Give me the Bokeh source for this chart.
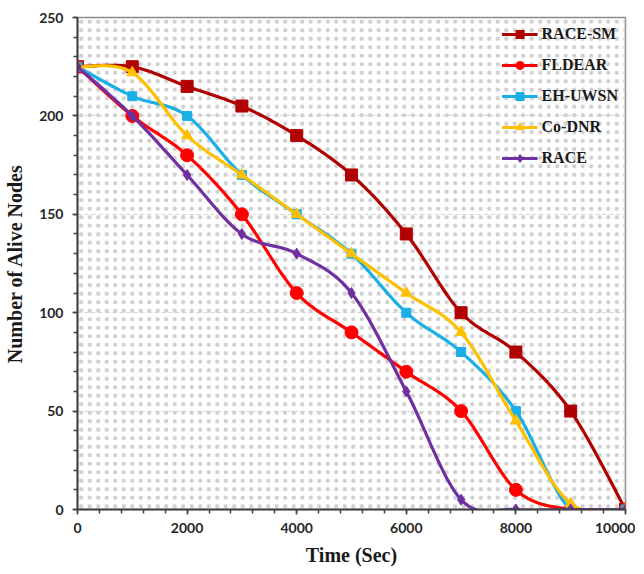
import numpy as np
from bokeh.plotting import figure
from bokeh.models import SingleIntervalTicker, BoxAnnotation, Legend, LegendItem, Range1d
from bokeh.embed import file_html
from bokeh.resources import INLINE

time_sec = [0, 1000, 2000, 3000, 4000, 5000, 6000, 7000, 8000, 9000, 10000]
race_sm = [225, 225, 215, 205, 190, 170, 140, 100, 80, 50, 0]
fldear = [225, 200, 180, 150, 110, 90, 70, 50, 10, 0, 0]
eh_uwsn = [225, 210, 200, 170, 150, 130, 100, 80, 50, 0, 0]
co_dnr = [225, 222, 190, 170, 150, 130, 110, 90, 45, 3, 0]
race = [225, 200, 170, 140, 130, 110, 60, 5, 0, 0, 0]

series_names = ["RACE-SM", "FLDEAR", "EH-UWSN", "Co-DNR", "RACE"]
series_values = [race_sm, fldear, eh_uwsn, co_dnr, race]
colors = ["#B00000", "#FF0000", "#1AAFE6", "#FFC000", "#7030A0"]
markers = ["square", "circle", "square", "triangle", "diamond"]
msizes = [12, 13, 9, 11, 11]


def smooth(xs, ys, n=24):
    """Excel-like smoothed line (Catmull-Rom as cubic Bezier)."""
    P = np.column_stack([np.asarray(xs, float), np.asarray(ys, float)])
    out = [P[0]]
    m = len(P)
    for i in range(m - 1):
        p0 = P[i - 1] if i > 0 else P[i]
        p1 = P[i]
        p2 = P[i + 1]
        p3 = P[i + 2] if i + 2 < m else P[i + 1]
        b1 = p1 + (p2 - p0) / 6.0
        b2 = p2 - (p3 - p1) / 6.0
        t = np.linspace(0, 1, n)[1:, None]
        pts = ((1 - t) ** 3) * p1 + 3 * ((1 - t) ** 2) * t * b1 + 3 * (1 - t) * t ** 2 * b2 + t ** 3 * p2
        out.extend(pts)
    out = np.array(out)
    return out[:, 0], out[:, 1]


p = figure(width=635, height=568, output_backend="svg", toolbar_location=None,
           x_range=Range1d(0, 10000), y_range=Range1d(0, 250),
           min_border_left=77, min_border_top=17, min_border_bottom=56, min_border_right=10)

p.background_fill_color = "white"
p.border_fill_color = "white"
p.outline_line_color = "#8c8c8c"
p.outline_line_width = 1.5

# dotted pattern background of the plot area
p.add_layout(BoxAnnotation(fill_alpha=0, line_alpha=0, hatch_pattern="dot",
                           hatch_color="#cfcfcf", hatch_scale=8.5, hatch_weight=0.6,
                           level="underlay"))

p.xgrid.grid_line_color = None
p.ygrid.grid_line_color = "#d4d4d4"
p.ygrid.grid_line_dash = "4 3"
p.ygrid.grid_line_width = 1

p.xaxis.ticker = SingleIntervalTicker(interval=2000, num_minor_ticks=5)
p.yaxis.ticker = SingleIntervalTicker(interval=50, num_minor_ticks=5)

for ax in (p.xaxis[0], p.yaxis[0]):
    ax.axis_line_color = "#404040"
    ax.axis_line_width = 2
    ax.major_tick_line_color = "#404040"
    ax.minor_tick_line_color = "#404040"
    ax.major_tick_line_width = 1.5
    ax.minor_tick_line_width = 1.5
    ax.major_tick_out = 5
    ax.major_tick_in = 0
    ax.minor_tick_out = 4
    ax.minor_tick_in = 0
    ax.major_label_text_font = "Lato"
    ax.major_label_text_font_size = "14px"
    ax.major_label_text_font_style = "bold"
    ax.major_label_text_color = "#262626"
    ax.axis_label_text_font = "Liberation Serif"
    ax.axis_label_text_font_style = "bold"
    ax.axis_label_text_color = "#1a1a1a"
    ax.axis_label_text_font_size = "20px"

p.xaxis.axis_label = "Time (Sec)"
p.yaxis.axis_label = "Number of Alive Nodes"
p.xaxis.axis_label_standoff = 8
p.yaxis.axis_label_standoff = 10
p.xaxis.major_label_standoff = 8
p.yaxis.major_label_standoff = 9

items = []
for name, vals, col, mk, ms in zip(series_names, series_values, colors, markers, msizes):
    sx, sy = smooth(time_sec, vals)
    r1 = p.line(sx, sy, line_color=col, line_width=3.2)
    r2 = p.scatter(time_sec, vals, marker=mk, size=ms, fill_color=col, line_color=col)
    items.append(LegendItem(label=name, renderers=[r1, r2]))

legend = Legend(items=items, location="top_right")
legend.background_fill_alpha = 0
legend.border_line_color = None
legend.label_text_font = "Liberation Serif"
legend.label_text_font_style = "bold"
legend.label_text_font_size = "16px"
legend.label_text_color = "#1a1a1a"
legend.glyph_width = 36
legend.glyph_height = 20
legend.label_height = 20
legend.spacing = 11
legend.margin = 7
legend.padding = 6
legend.label_standoff = 4
p.add_layout(legend)

open("out.html", "w").write(file_html(p, INLINE))
